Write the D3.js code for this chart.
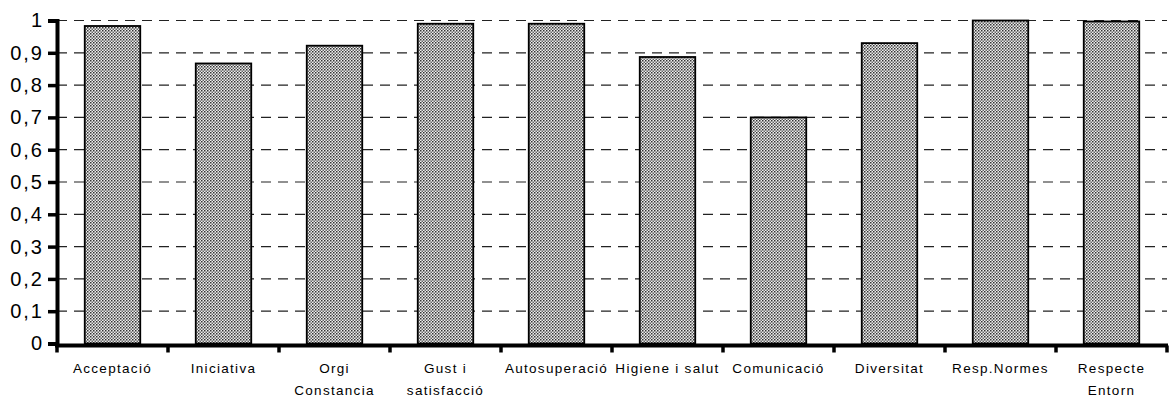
<!DOCTYPE html>
<html><head><meta charset="utf-8">
<script src="https://cdn.jsdelivr.net/npm/d3@7"></script>
<style>body{margin:0;background:#fff}svg{display:block}</style>
</head><body><svg id="c" width="1174" height="398"></svg>
<script>
const categories = ["Acceptació","Iniciativa","Orgi Constancia","Gust i satisfacció","Autosuperació","Higiene i salut","Comunicació","Diversitat","Resp.Normes","Respecte Entorn"];
const labelLines = [["Acceptació"],["Iniciativa"],["Orgi","Constancia"],["Gust i","satisfacció"],["Autosuperació"],["Higiene i salut"],["Comunicació"],["Diversitat"],["Resp.Normes"],["Respecte","Entorn"]];
const values = [0.983,0.867,0.922,0.99,0.99,0.887,0.70,0.93,1.0,0.997];
const yTicks = [0,0.1,0.2,0.3,0.4,0.5,0.6,0.7,0.8,0.9,1];
const yTickLabels = ["0","0,1","0,2","0,3","0,4","0,5","0,6","0,7","0,8","0,9","1"];

const svg = d3.select("#c");
const x0 = 57, x1 = 1167, yTop = 20.5, yBot = 343.5;
const x = d3.scaleBand().domain(categories).range([x0,x1]).paddingInner(0.5).paddingOuter(0.25);
const y = d3.scaleLinear().domain([0,1]).range([yBot,yTop]);

const defs = svg.append("defs");
const pat = defs.append("pattern").attr("id","dots").attr("patternUnits","userSpaceOnUse").attr("width",3).attr("height",3);
pat.append("rect").attr("width",3).attr("height",3).attr("fill","#eeeeee");
pat.append("rect").attr("x",0).attr("y",0).attr("width",1.5).attr("height",1.5).attr("fill","#333");
pat.append("rect").attr("x",1.5).attr("y",1.5).attr("width",1.5).attr("height",1.5).attr("fill","#666");

// gridlines
svg.append("g").selectAll("line").data(yTicks.filter(d=>d>0)).join("line")
  .attr("x1",x0).attr("x2",x1).attr("y1",d=>y(d)).attr("y2",d=>y(d))
  .attr("stroke","#222").attr("stroke-width",1.2).attr("stroke-dasharray","10,7");

// bars
svg.append("g").selectAll("rect").data(values).join("rect")
  .attr("x",(d,i)=>x(categories[i])).attr("width",x.bandwidth())
  .attr("y",d=>y(d)).attr("height",d=>yBot-y(d))
  .attr("fill","url(#dots)").attr("stroke","#000").attr("stroke-width",1.8);

// y axis
const yAxis = d3.axisLeft(y).tickValues(yTicks).tickFormat((d,i)=>yTickLabels[i]).tickSize(9).tickPadding(4);
const gy = svg.append("g").attr("transform",`translate(${x0},0)`).call(yAxis);
gy.select(".domain").attr("stroke","#000").attr("stroke-width",4);
gy.selectAll(".tick line").attr("stroke","#000").attr("stroke-width",3.5);
gy.selectAll(".tick text").attr("font-family","Liberation Sans, Arial, sans-serif").attr("font-size",20).attr("letter-spacing","2px").attr("fill","#000");

// x axis
const xb = d3.scaleLinear().domain([0,categories.length]).range([x0,x1]);
svg.append("line").attr("x1",x0-2).attr("x2",x1+1).attr("y1",yBot+2).attr("y2",yBot+2).attr("stroke","#000").attr("stroke-width",4);
svg.append("g").selectAll("line").data(d3.range(categories.length+1)).join("line")
  .attr("x1",d=>xb(d)).attr("x2",d=>xb(d)).attr("y1",yBot+2).attr("y2",yBot+9)
  .attr("stroke","#000").attr("stroke-width",3.5);

const lab = svg.append("g").attr("font-family","Liberation Sans, Arial, sans-serif").attr("font-size",13.5).attr("fill","#000").attr("text-anchor","middle").attr("letter-spacing","1.3px");
labelLines.forEach((lines,i)=>{
  lines.forEach((t,j)=>{
    lab.append("text").attr("x",x(categories[i])+x.bandwidth()/2).attr("y",373+j*22).text(t);
  });
});
</script></body></html>
